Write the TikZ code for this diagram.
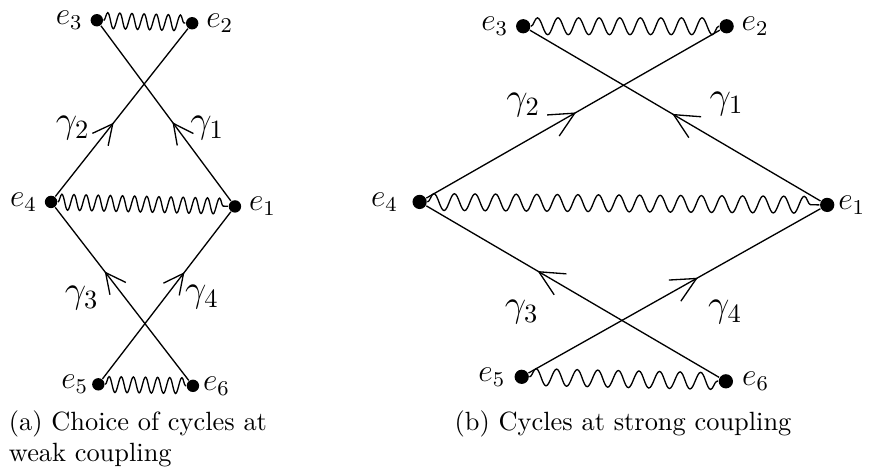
\documentclass[tikz,border=0pt]{standalone}
\usepackage{amsmath,amssymb}
\usepackage{tikz}
\usetikzlibrary{arrows.meta,decorations.pathmorphing,decorations.markings}
\tikzset{
  cycle dot/.style={circle, fill=black, inner sep=0pt, minimum size=#1},
  cycle dot/.default=4.7pt,
  wave weak/.style={decorate, decoration={snake, segment length=4.6pt, amplitude=3pt}},
  wave strong/.style={decorate, decoration={snake, segment length=7.8pt, amplitude=3.2pt}},
  cycle edge weak/.style={postaction={decorate, decoration={markings,
      mark=at position #1 with {\arrow{Straight Barb[length=7.6pt, width=7.6pt]}}}}},
  cycle edge strong/.style={postaction={decorate, decoration={markings,
      mark=at position #1 with {\arrow{Straight Barb[length=9.4pt, width=9.2pt]}}}}},
  cycle label/.style={font=\Large, inner sep=0pt},
  caption label/.style={font=\normalsize, inner sep=0pt},
  every label/.append style={font=\large, inner sep=0pt},
}

\begin{document}
\begin{tikzpicture}[line width=0.5pt, label distance=2.5pt]
  \useasboundingbox (0,0) rectangle (11.63,6.21);
  % (a) weak coupling
  \node[cycle dot, label=left:$e_3$] (l3) at (1.29,5.94) {};
  \node[cycle dot, label=right:$e_2$] (l2) at (2.56,5.90) {};
  \node[cycle dot, label=left:$e_4$] (l4) at (0.68,3.52) {};
  \node[cycle dot, label=right:$e_1$] (l1) at (3.13,3.46) {};
  \node[cycle dot, label={[label distance=1pt]left:$e_5$}] (l5) at (1.31,1.09) {};
  \node[cycle dot, label={[label distance=1pt]right:$e_6$}] (l6) at (2.57,1.07) {};
  \draw[wave weak] (l3) -- (l2);
  \draw[wave weak] (l4) -- (l1);
  \draw[wave weak] (l5) -- (l6);
  \draw[cycle edge weak=0.45] (l1) -- (l3);
  \draw[cycle edge weak=0.44] (l4) -- (l2);
  \draw[cycle edge weak=0.63] (l6) -- (l4);
  \draw[cycle edge weak=0.64] (l5) -- (l1);
  \node[cycle label] (lg1) at (2.76,4.50) {$\gamma_1$};
  \node[cycle label] (lg2) at (0.97,4.50) {$\gamma_2$};
  \node[cycle label] (lg3) at (1.09,2.24) {$\gamma_3$};
  \node[cycle label] (lg4) at (2.69,2.25) {$\gamma_4$};
  \node[caption label, anchor=base west, text width=4cm, align=left] (capa) at (0.11,0.48)
    {(a) Choice of cycles at\\weak coupling};
  % (b) strong coupling
  \node[cycle dot=5.4pt, label=left:$e_3$] (r3) at (6.97,5.86) {};
  \node[cycle dot=5.4pt, label=right:$e_2$] (r2) at (9.68,5.86) {};
  \node[cycle dot=5.4pt, label={[label distance=5pt]left:$e_4$}] (r4) at (5.59,3.52) {};
  \node[cycle dot=5.4pt, label={[label distance=1pt]right:$e_1$}] (r1) at (11.02,3.48) {};
  \node[cycle dot=5.4pt, label={[label distance=3pt]left:$e_5$}] (r5) at (6.95,1.19) {};
  \node[cycle dot=5.4pt, label={[label distance=3pt]right:$e_6$}] (r6) at (9.67,1.13) {};
  \draw[wave strong] (r3) -- (r2);
  \draw[wave strong] (r4) -- (r1);
  \draw[wave strong] (r5) -- (r6);
  \draw[cycle edge strong=0.51] (r1) -- (r3);
  \draw[cycle edge strong=0.51] (r4) -- (r2);
  \draw[cycle edge strong=0.62] (r6) -- (r4);
  \draw[cycle edge strong=0.58] (r5) -- (r1);
  \node[cycle label] (rg1) at (9.68,4.83) {$\gamma_1$};
  \node[cycle label] (rg2) at (6.97,4.81) {$\gamma_2$};
  \node[cycle label] (rg3) at (6.95,2.05) {$\gamma_3$};
  \node[cycle label] (rg4) at (9.66,2.05) {$\gamma_4$};
  \node[caption label, anchor=base] (capb) at (8.30,0.48) {(b) Cycles at strong coupling};
\end{tikzpicture}
\end{document}
